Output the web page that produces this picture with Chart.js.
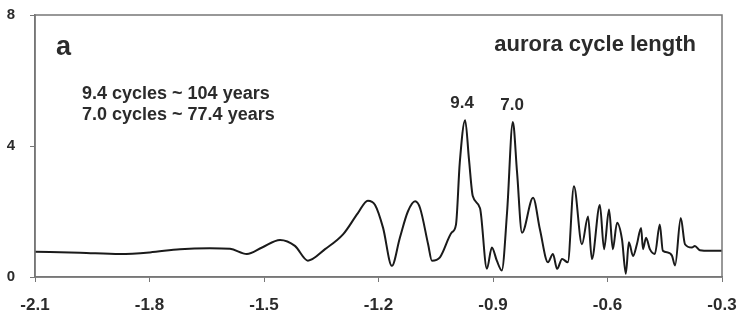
<!DOCTYPE html>
<html lang="en">
<head>
    <meta charset="UTF-8">
    <title>Aurora cycle length</title>
    <script src="https://cdn.jsdelivr.net/npm/chart.js"></script>
    <style>
        body {
            margin: 0;
            padding: 0;
            background-color: #fff;
        }
        .chart-container {
            position: relative;
            width: 740px;
            height: 319px;
        }
    </style>
</head>
<body>
    <div class="chart-container">
        <canvas id="auroraChart"></canvas>
    </div>

    <script>
        // Spectrum (log frequency vs power)
        const logFreq = [
            -2.100, -1.982, -1.877, -1.799, -1.720, -1.642, -1.589, -1.545, -1.505, -1.458,
            -1.419, -1.385, -1.340, -1.293, -1.254, -1.228, -1.209, -1.188, -1.165, -1.144,
            -1.123, -1.104, -1.091, -1.070, -1.060, -1.039, -1.008, -0.997, -0.987, -0.973,
            -0.963, -0.953, -0.934, -0.916, -0.903, -0.890, -0.877, -0.863, -0.848, -0.837,
            -0.824, -0.795, -0.777, -0.756, -0.743, -0.732, -0.719, -0.704, -0.688, -0.667,
            -0.651, -0.641, -0.620, -0.609, -0.596, -0.586, -0.575, -0.562, -0.552, -0.544,
            -0.533, -0.523, -0.512, -0.507, -0.499, -0.489, -0.476, -0.463, -0.455, -0.442,
            -0.431, -0.423, -0.408, -0.397, -0.379, -0.371, -0.358, -0.332, -0.300
        ];
        const power = [
            0.77, 0.74, 0.70, 0.75, 0.85, 0.88, 0.86, 0.70, 0.90, 1.13,
            0.95, 0.50, 0.85, 1.30, 1.95, 2.33, 2.20, 1.50, 0.34, 1.20,
            2.00, 2.31, 2.10, 1.00, 0.50, 0.60, 1.36, 1.60, 3.50, 4.79,
            3.60, 2.47, 2.10, 0.25, 0.90, 0.50, 0.20, 2.00, 4.73, 3.20,
            1.35, 2.42, 1.45, 0.45, 0.70, 0.25, 0.55, 0.45, 2.77, 1.00,
            1.85, 0.55, 2.20, 0.85, 2.06, 0.85, 1.66, 1.15, 0.10, 1.06,
            0.64, 1.00, 1.50, 0.85, 1.20, 0.85, 0.70, 1.60, 0.80, 0.75,
            0.65, 0.35, 1.80, 1.00, 0.90, 0.95, 0.82, 0.80, 0.80
        ];
        const xTicks = [-2.1, -1.8, -1.5, -1.2, -0.9, -0.6, -0.3];
        const yTicks = [0, 4, 8];

        const peakLabels = [
            { x: -0.981, y: 4.79, text: '9.4' },
            { x: -0.850, y: 4.73, text: '7.0' }
        ];

        const font = '"Liberation Sans", Arial, sans-serif';
        const textColor = '#2b2b2b';
        const frameColor = '#777';

        // Frame around plot and the text notes
        const notesPlugin = {
            id: 'notes',
            afterDatasetsDraw(chart) {
                const { ctx, chartArea, scales } = chart;
                ctx.save();
                ctx.strokeStyle = frameColor;
                ctx.lineWidth = 1.5;
                ctx.strokeRect(chartArea.left, chartArea.top,
                    chartArea.right - chartArea.left, chartArea.bottom - chartArea.top);

                ctx.fillStyle = textColor;
                ctx.textBaseline = 'alphabetic';

                ctx.font = 'bold 27px ' + font;
                ctx.textAlign = 'left';
                ctx.fillText('a', chartArea.left + 21, 55);

                ctx.font = 'bold 22px ' + font;
                ctx.textAlign = 'right';
                ctx.fillText('aurora cycle length', chartArea.right - 26, 51);

                ctx.font = 'bold 18px ' + font;
                ctx.textAlign = 'left';
                ctx.fillText('9.4 cycles ~ 104 years', chartArea.left + 47, 99);
                ctx.fillText('7.0 cycles ~ 77.4 years', chartArea.left + 47, 120);

                ctx.font = 'bold 17px ' + font;
                ctx.textAlign = 'center';
                peakLabels.forEach(p => {
                    const px = scales.x.getPixelForValue(p.x);
                    const py = scales.y.getPixelForValue(p.y);
                    ctx.fillText(p.text, px, py - 12);
                });
                ctx.restore();
            }
        };

        const ctx = document.getElementById('auroraChart').getContext('2d');
        const auroraChart = new Chart(ctx, {
            type: 'line',
            data: {
                datasets: [{
                    label: 'aurora cycle length',
                    data: logFreq.map((x, i) => ({ x: x, y: power[i] })),
                    borderColor: '#1a1a1a',
                    borderWidth: 2,
                    pointRadius: 0,
                    fill: false,
                    cubicInterpolationMode: 'monotone'
                }]
            },
            options: {
                responsive: true,
                maintainAspectRatio: false,
                animation: false,
                layout: {
                    padding: { top: 15, right: 18, left: 0, bottom: 0 }
                },
                plugins: {
                    legend: { display: false },
                    tooltip: { enabled: false }
                },
                scales: {
                    x: {
                        type: 'linear',
                        min: -2.1,
                        max: -0.3,
                        afterBuildTicks: s => { s.ticks = xTicks.map(v => ({ value: v })); },
                        afterFit: s => { s.height = 42; s.paddingLeft = 0; s.paddingRight = 0; },
                        grid: { drawOnChartArea: false, drawTicks: true, tickLength: 5, color: frameColor },
                        border: { display: true, color: frameColor, width: 1.5 },
                        ticks: {
                            padding: 13,
                            color: textColor,
                            maxRotation: 0,
                            font: { family: font, size: 17, weight: 'bold' },
                            callback: v => v.toFixed(1)
                        }
                    },
                    y: {
                        min: 0,
                        max: 8,
                        afterBuildTicks: s => { s.ticks = yTicks.map(v => ({ value: v })); },
                        afterFit: s => { s.width = 35; s.paddingTop = 0; s.paddingBottom = 0; },
                        grid: { drawOnChartArea: false, drawTicks: true, tickLength: 5, color: frameColor },
                        border: { display: true, color: frameColor, width: 1.5 },
                        ticks: {
                            padding: 15,
                            color: textColor,
                            font: { family: font, size: 15, weight: 'bold' },
                            callback: v => String(v)
                        }
                    }
                }
            },
            plugins: [notesPlugin]
        });
    </script>
</body>
</html>
